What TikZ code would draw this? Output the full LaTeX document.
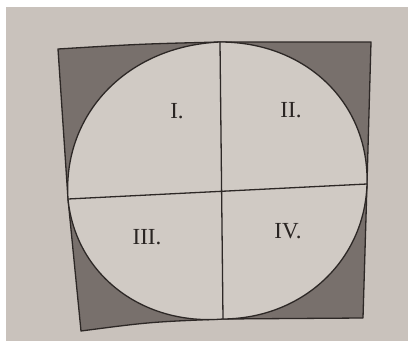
\documentclass[tikz,border=0pt]{standalone}
\usepackage{fontspec}
\setmainfont{Liberation Serif}
\usetikzlibrary{calc}

\definecolor{paper}{RGB}{201,194,188}
\definecolor{inner}{RGB}{208,202,196}
\definecolor{shade}{RGB}{120,112,108}
\definecolor{ink}{RGB}{45,40,38}

\begin{document}
\begin{tikzpicture}[
    x=1pt, y=-1pt,
    every node/.style={font=\fontsize{23}{24}\selectfont, text=ink!90!black},
    edge/.style={line width=1.3pt, draw=ink, line join=round},
]

% === Page and photo background ===
\useasboundingbox (0,0) rectangle (408,351);
\fill[white] (0,0) rectangle (408,351);
\fill[paper] (6,7) rectangle (408,341);

% === Square corners and side midpoints ===
\coordinate (TL) at (58,49);
\coordinate (TR) at (371,42);
\coordinate (BR) at (363,318);
\coordinate (BL) at (81,331);
\coordinate (T) at (220,42);    % top tangent point
\coordinate (R) at (367,184);   % right tangent point
\coordinate (B) at (223,319);   % bottom tangent point
\coordinate (L) at (68,199);    % left tangent point
\def\k{0.57}                    % circle control factor

% === Shaded square ===
\path[edge, fill=shade]
    (TL) .. controls (140,44) .. (T) -- (TR) -- (R) -- (BR) -- (B)
    .. controls (150,322) .. (BL) -- (L) -- cycle;

% === Inscribed circle ===
\path[edge, fill=inner]
    (T) .. controls ($(T)!\k!(TR)$) and ($(R)!\k!(TR)$) .. (R)
        .. controls ($(R)!\k!(BR)$) and ($(B)!\k!(BR)$) .. (B)
        .. controls ($(B)!\k!(BL)$) and ($(L)!\k!(BL)$) .. (L)
        .. controls ($(L)!\k!(TL)$) and ($(T)!\k!(TL)$) .. (T) -- cycle;

% === Quadrant lines ===
\draw[edge] (T) -- (B);
\draw[edge] (L) -- (R);

% === Quadrant labels ===
\node (q1) at (177,111) {I.};
\node (q2) at (291,110) {II.};
\node (q3) at (147,237) {III.};
\node (q4) at (288,231) {IV.};

\end{tikzpicture}
\end{document}
